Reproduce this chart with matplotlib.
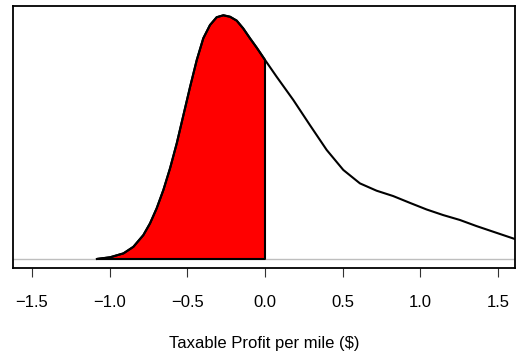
import matplotlib
matplotlib.use("Agg")
import matplotlib.pyplot as plt

plt.rcParams['font.family'] = ['Liberation Sans', 'DejaVu Sans']

# density estimate of taxable profit per mile
profit = [-1.082, -0.997, -0.911, -0.847, -0.783, -0.740, -0.697, -0.654,
          -0.611, -0.568, -0.525, -0.482, -0.439, -0.397, -0.354, -0.311,
          -0.268, -0.225, -0.182, -0.140, -0.097, -0.053, 0.0,
          0.075, 0.182, 0.289, 0.397, 0.504, 0.611, 0.718, 0.825, 0.933,
          1.040, 1.147, 1.254, 1.361, 1.468, 1.608, 1.700]
density = [0.0, 0.007, 0.023, 0.050, 0.098, 0.146, 0.208, 0.283,
           0.372, 0.474, 0.590, 0.706, 0.816, 0.905, 0.959, 0.991,
           0.999, 0.993, 0.977, 0.945, 0.905, 0.866, 0.816,
           0.747, 0.652, 0.549, 0.447, 0.365, 0.310, 0.280, 0.258, 0.230,
           0.203, 0.180, 0.160, 0.135, 0.112, 0.082, 0.066]
cutoff = 0.0
xticks = [-1.5, -1.0, -0.5, 0.0, 0.5, 1.0, 1.5]
xtick_labels = ["\u22121.5", "\u22121.0", "\u22120.5", "0.0", "0.5", "1.0", "1.5"]


def main():
    fig = plt.figure(figsize=(5.16, 3.54), dpi=100)
    ax = fig.add_axes([0.0252, 0.2429, 0.9728, 0.7401])

    # shaded region: losses (profit below cutoff)
    xs = [x for x in profit if x <= cutoff]
    ys = density[:len(xs)]
    poly_x = xs + [cutoff, xs[0]]
    poly_y = ys + [0.0, 0.0]
    ax.fill(poly_x, poly_y, facecolor="#ff0000", edgecolor="black",
            linewidth=1.5, joinstyle="round", zorder=3)

    ax.axhline(0, color="#bebebe", linewidth=1.0, zorder=1)
    ax.plot(profit, density, color="black", linewidth=1.5,
            solid_joinstyle="round", zorder=4)

    ax.set_xlim(-1.622, 1.609)
    ax.set_ylim(-0.037, 1.037)
    ax.set_yticks([])
    ax.set_xticks(xticks)
    ax.set_xticklabels(xtick_labels, fontsize=12)
    ax.tick_params(axis="x", direction="out", length=6.5, width=0.8,
                   color="#333333", pad=13)
    for s in ax.spines.values():
        s.set_linewidth(1.3)
    ax.set_xlabel("Taxable Profit per mile ($)", fontsize=12, labelpad=19)

    fig.savefig("out.png", dpi=100)


if __name__ == "__main__":
    main()
